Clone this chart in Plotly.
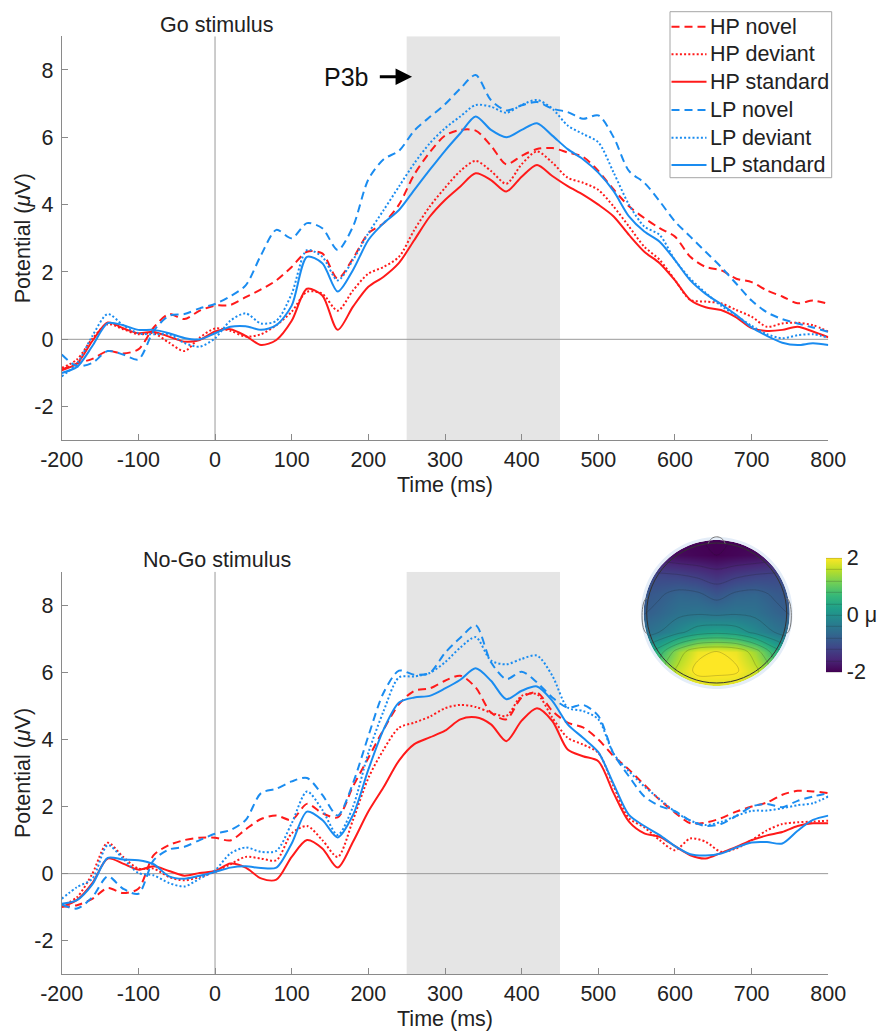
import numpy as np
import plotly.graph_objects as go

# ---------------- data ----------------
time_ms = list(range(-200, 801, 20))

go_hp_novel = [-0.90, -0.72, -0.58, -0.35, -0.42, -0.30, 0.35, 0.75, 0.60, 0.85,
               1.00, 1.02, 1.25, 1.48, 1.75, 2.15, 2.60, 2.55, 1.80, 2.40,
               3.15, 3.45, 4.00, 4.90, 5.55, 6.05, 6.22, 6.20, 5.75, 5.20,
               5.45, 5.65, 5.68, 5.55, 5.42, 5.00, 4.45, 3.95, 3.60, 3.30,
               3.05, 2.45, 2.15, 2.05, 1.80, 1.70, 1.45, 1.27, 1.07, 1.15, 1.05]
go_hp_deviant = [-0.85, -0.60, 0.02, 0.45, 0.30, 0.15, 0.18, -0.10, -0.35, 0.05,
                 0.32, 0.25, 0.08, 0.15, 0.42, 0.82, 1.41, 1.35, 0.85, 1.45,
                 1.95, 2.15, 2.45, 3.25, 3.94, 4.50, 5.00, 5.30, 5.00, 4.62,
                 5.20, 5.58, 5.25, 4.80, 4.65, 4.44, 3.94, 3.35, 2.75, 2.36,
                 1.76, 1.17, 1.12, 1.07, 0.87, 0.67, 0.37, 0.47, 0.49, 0.42, 0.23]
go_hp_standard = [-0.92, -0.72, -0.05, 0.50, 0.33, 0.18, 0.22, 0.08, -0.07, -0.02,
                  0.23, 0.30, 0.10, -0.17, -0.02, 0.55, 1.50, 1.30, 0.28, 0.97,
                  1.56, 1.86, 2.27, 2.95, 3.64, 4.14, 4.54, 4.93, 4.73, 4.39,
                  4.83, 5.18, 4.85, 4.55, 4.30, 4.00, 3.65, 3.10, 2.60, 2.26,
                  1.75, 1.17, 0.95, 0.87, 0.65, 0.33, 0.25, 0.28, 0.37, 0.23, 0.06]
go_lp_novel = [-0.45, -0.80, -0.70, -0.35, -0.45, -0.60, 0.25, 0.70, 0.75, 0.92,
               1.05, 1.28, 1.60, 2.50, 3.25, 3.00, 3.45, 3.30, 2.65, 3.35,
               4.75, 5.35, 5.60, 6.20, 6.60, 6.98, 7.45, 7.85, 7.10, 6.80,
               6.95, 7.05, 6.85, 6.75, 6.55, 6.65, 6.00, 5.00, 4.65, 4.10,
               3.50, 3.05, 2.60, 2.15, 1.65, 1.15, 0.80, 0.60, 0.47, 0.35, 0.22]
go_lp_deviant = [-1.10, -0.72, 0.10, 0.75, 0.42, 0.18, 0.15, 0.15, -0.11, -0.22,
                 0.03, 0.55, 0.77, 0.47, 0.55, 1.35, 2.65, 2.45, 1.75, 2.36,
                 3.15, 3.84, 4.54, 5.23, 5.82, 6.27, 6.62, 6.96, 6.91, 6.73,
                 6.96, 7.11, 6.85, 6.35, 6.10, 5.85, 4.95, 4.00, 3.35, 3.10,
                 2.35, 1.80, 1.38, 1.00, 0.70, 0.40, 0.15, 0.03, 0.12, 0.15, 0.05]
go_lp_standard = [-1.00, -0.82, -0.20, 0.48, 0.42, 0.28, 0.28, 0.18, 0.04, 0.00,
                  0.18, 0.37, 0.39, 0.28, 0.42, 1.00, 2.45, 2.26, 1.42, 2.06,
                  2.95, 3.45, 3.84, 4.44, 5.03, 5.60, 6.12, 6.62, 6.22, 6.00,
                  6.22, 6.42, 6.05, 5.65, 5.35, 4.95, 4.40, 3.65, 3.20, 2.90,
                  2.35, 1.75, 1.35, 1.05, 0.72, 0.35, 0.10, -0.10, -0.17, -0.12, -0.17]

nogo_hp_novel = [-0.99, -0.94, -0.75, -0.43, -0.58, -0.45, 0.55, 0.85, 1.00, 1.07,
                 1.07, 0.99, 1.32, 1.63, 1.73, 1.60, 2.08, 1.80, 1.68, 2.60,
                 3.45, 4.30, 5.05, 5.45, 5.52, 5.75, 5.90, 5.55, 4.80, 4.60,
                 5.25, 5.40, 4.85, 4.50, 4.36, 4.00, 3.50, 3.10, 2.65, 2.20,
                 1.82, 1.50, 1.52, 1.65, 1.85, 2.00, 2.12, 2.35, 2.47, 2.45, 2.40]
nogo_hp_deviant = [-0.95, -0.70, 0.00, 0.92, 0.50, 0.15, 0.15, -0.10, -0.20, -0.10,
                   0.05, 0.28, 0.50, 0.45, 0.40, 1.20, 1.42, 1.00, 0.50, 1.60,
                   2.85, 3.70, 4.35, 4.50, 4.68, 4.93, 5.03, 4.97, 4.80, 4.70,
                   5.30, 5.35, 4.65, 4.05, 3.85, 3.60, 2.60, 1.65, 1.38, 1.00,
                   0.70, 1.05, 0.95, 0.65, 0.75, 1.00, 1.29, 1.48, 1.53, 1.55, 1.58]
nogo_hp_standard = [-0.99, -0.78, -0.28, 0.45, 0.30, 0.12, 0.22, 0.08, -0.06, 0.02,
                    0.08, 0.30, 0.18, -0.14, -0.18, 0.50, 1.00, 0.75, 0.18, 0.95,
                    1.85, 2.58, 3.37, 3.86, 4.06, 4.26, 4.60, 4.66, 4.45, 3.95,
                    4.56, 4.93, 4.55, 3.70, 3.50, 3.35, 2.40, 1.55, 1.20, 1.10,
                    0.82, 0.55, 0.45, 0.62, 0.80, 1.00, 1.14, 1.24, 1.42, 1.50, 1.50]
nogo_lp_novel = [-0.92, -1.04, -0.70, -0.08, -0.45, -0.60, 0.40, 0.72, 0.80, 1.00,
                 1.19, 1.30, 1.60, 2.40, 2.53, 2.75, 2.85, 2.35, 1.73, 2.70,
                 4.10, 5.40, 6.05, 5.93, 5.98, 6.58, 7.03, 7.40, 6.30, 5.80,
                 6.02, 5.70, 5.25, 4.95, 5.03, 4.70, 3.57, 2.90, 2.30, 2.02,
                 1.86, 1.58, 1.42, 1.48, 1.72, 2.00, 2.08, 1.98, 2.17, 2.30, 2.40]
nogo_lp_deviant = [-0.75, -0.40, -0.15, 0.85, 0.45, 0.02, -0.05, -0.28, -0.38, -0.15,
                   0.10, 0.60, 0.78, 0.65, 0.68, 1.50, 2.45, 1.90, 1.15, 2.00,
                   3.60, 4.85, 5.85, 5.88, 5.98, 6.30, 6.74, 7.05, 6.35, 6.24,
                   6.40, 6.50, 5.90, 4.95, 4.85, 4.60, 3.57, 3.05, 2.60, 2.22,
                   1.85, 1.58, 1.45, 1.54, 1.72, 1.87, 1.88, 1.95, 2.04, 2.10, 2.30]
nogo_lp_standard = [-0.90, -0.79, -0.32, 0.47, 0.42, 0.40, 0.28, -0.08, -0.15, -0.06,
                    0.05, 0.18, 0.22, 0.17, 0.18, 0.90, 1.85, 1.60, 1.08, 1.75,
                    3.10, 4.30, 5.10, 5.25, 5.30, 5.52, 5.78, 6.12, 5.75, 5.20,
                    5.45, 5.58, 5.15, 4.45, 4.05, 3.62, 2.67, 1.75, 1.42, 1.15,
                    0.82, 0.58, 0.54, 0.60, 0.78, 0.93, 0.94, 0.90, 1.28, 1.60, 1.73]

series_names = ["HP novel", "HP deviant", "HP standard", "LP novel", "LP deviant", "LP standard"]
go_series = [go_hp_novel, go_hp_deviant, go_hp_standard, go_lp_novel, go_lp_deviant, go_lp_standard]
nogo_series = [nogo_hp_novel, nogo_hp_deviant, nogo_hp_standard, nogo_lp_novel, nogo_lp_deviant, nogo_lp_standard]

x_ticks = [-200, -100, 0, 100, 200, 300, 400, 500, 600, 700, 800]
x_tick_labels = ["-200", "-100", "0", "100", "200", "300", "400", "500", "600", "700", "800"]
y_ticks = [-2, 0, 2, 4, 6, 8]
y_tick_labels = ["-2", "0", "2", "4", "6", "8"]
p3b_window = [250, 450]

# topographic map values (rows bottom->top, columns left->right)
topo_x = [-1.1, -0.825, -0.55, -0.275, 0.0, 0.275, 0.55, 0.825, 1.1]
topo_y = [-1.1, -0.825, -0.55, -0.275, 0.0, 0.275, 0.55, 0.825, 1.1]
topo_z = [
    [0.9, 1.2, 1.5, 1.7, 1.7, 1.7, 1.5, 1.2, 0.9],
    [0.6, 1.1, 1.7, 2.1, 2.1, 2.05, 1.7, 1.1, 0.6],
    [0.1, 0.6, 1.4, 1.9, 2.0, 1.9, 1.4, 0.6, 0.1],
    [-0.6, -0.4, -0.1, 0.2, 0.3, 0.2, -0.1, -0.4, -0.6],
    [-0.85, -0.7, -0.5, -0.45, -0.5, -0.45, -0.5, -0.7, -0.85],
    [-0.95, -0.85, -0.7, -0.75, -0.95, -0.75, -0.7, -0.85, -0.95],
    [-1.1, -1.15, -1.2, -1.3, -1.45, -1.3, -1.2, -1.15, -1.1],
    [-1.75, -1.8, -1.9, -1.95, -2.0, -1.95, -1.9, -1.8, -1.75],
    [-2.0, -2.0, -2.0, -2.0, -2.0, -2.0, -2.0, -2.0, -2.0],
]

# ---------------- style ----------------
W, H = 883, 1036
RED = "#ff1a1a"
BLUE = "#1a8cf0"
colors = [RED, RED, RED, BLUE, BLUE, BLUE]
dashes = ["8px,5px", "2px,2.2px", "solid", "8px,5px", "2px,2.2px", "solid"]
FONT = "Liberation Sans, Arial, sans-serif"
FS = 21.5
TXT = "#222222"
AXC = "#8a8a8a"

def px_x(p):
    return p / W

def px_y(p):
    return 1 - p / H

fig = go.Figure()

for i, (name, vals) in enumerate(zip(series_names, go_series)):
    fig.add_trace(go.Scatter(x=time_ms, y=vals, mode="lines", name=name,
                             showlegend=False,
                             line=dict(color=colors[i], width=2, dash=dashes[i],
                                       shape="spline", smoothing=0.8),
                             xaxis="x", yaxis="y", hoverinfo="skip"))
for i, (name, vals) in enumerate(zip(series_names, nogo_series)):
    fig.add_trace(go.Scatter(x=time_ms, y=vals, mode="lines", name=name,
                             showlegend=False,
                             line=dict(color=colors[i], width=2, dash=dashes[i],
                                       shape="spline", smoothing=0.8),
                             xaxis="x2", yaxis="y2", hoverinfo="skip"))

# topomap
fig.add_trace(go.Contour(
    x=topo_x, y=topo_y, z=topo_z, xaxis="x3", yaxis="y3",
    colorscale="Viridis", zmin=-2, zmax=2, autocontour=False,
    contours=dict(start=-2, end=2, size=0.4, coloring="heatmap"),
    line=dict(color="rgba(30,30,30,0.3)", width=0.7, smoothing=1.0),
    showlegend=False, hoverinfo="skip",
    colorbar=dict(x=px_x(825.7), xanchor="left", y=px_y(614.85), yanchor="middle",
                  len=113.7, lenmode="pixels", thickness=16, thicknessmode="pixels",
                  tickvals=[-2, 0, 2], ticktext=["-2", "0 μ", "2"], ticks="",
                  outlinewidth=0, xpad=0, ypad=0,
                  tickfont=dict(size=FS, family=FONT, color=TXT))))

xdom = [px_x(61.7), px_x(828.3)]
top_dom = [px_y(440.3), px_y(36.3)]
bot_dom = [px_y(974.3), px_y(571.7)]

axis_common = dict(showline=True, linecolor=AXC, linewidth=1, ticks="inside", ticklen=6,
                   tickcolor=AXC, showgrid=False, zeroline=False, mirror=False,
                   automargin=False,
                   tickfont=dict(size=FS, family=FONT, color=TXT))

def xax(anchor):
    return dict(axis_common, domain=xdom, range=[-200, 800], tickmode="array",
                tickvals=x_ticks, ticktext=x_tick_labels, anchor=anchor,
                title=dict(text="Time (ms)", font=dict(size=FS, family=FONT, color=TXT),
                           standoff=5))

def yax(dom, anchor):
    return dict(axis_common, domain=dom, range=[-3, 9], tickmode="array",
                tickvals=y_ticks, ticktext=y_tick_labels, anchor=anchor,
                ticklabelstandoff=3)

shapes = []
for xr, yr in [("x", "y"), ("x2", "y2")]:
    shapes.append(dict(type="rect", xref=xr, yref=yr, x0=p3b_window[0], x1=p3b_window[1],
                       y0=-3, y1=9, fillcolor="#e5e5e5", line=dict(width=0), layer="below"))
    shapes.append(dict(type="line", xref=xr, yref=yr, x0=0, x1=0, y0=-3, y1=9,
                       line=dict(color="#999999", width=1), layer="below"))
    shapes.append(dict(type="line", xref=xr, yref=yr, x0=-200, x1=800, y0=0, y1=0,
                       line=dict(color="#999999", width=1), layer="below"))

# topomap masks / outlines (geometry only)
S = 8 / 7

def circle_path(r, ccw=True, n=160):
    ang = np.linspace(0, 2 * np.pi, n, endpoint=False)
    if not ccw:
        ang = -ang
    pts = [f"{r*np.cos(a):.4f},{r*np.sin(a):.4f}" for a in ang]
    return "M " + " L ".join(pts) + " Z"

sq = f"M {-S},{-S} L {-S},{S} L {S},{S} L {S},{-S} Z"
shapes.append(dict(type="path", xref="x3", yref="y3", path=sq + " " + circle_path(1.043, True),
                   fillcolor="white", line=dict(width=0), layer="above"))
shapes.append(dict(type="path", xref="x3", yref="y3",
                   path=circle_path(1.085, False) + " " + circle_path(1.043, True),
                   fillcolor="#e4edf8", line=dict(width=0), layer="above"))
shapes.append(dict(type="circle", xref="x3", yref="y3", x0=-1, x1=1, y0=-1, y1=1,
                   line=dict(color="#333333", width=1), layer="above"))
shapes.append(dict(type="path", xref="x3", yref="y3",
                   path="M -0.12,0.993 C -0.08,1.12 0.08,1.12 0.12,0.993",
                   line=dict(color="#777777", width=1), layer="above"))
shapes.append(dict(type="path", xref="x3", yref="y3",
                   path="M -0.995,0.21 C -1.09,0.2 -1.09,-0.28 -0.995,-0.29",
                   line=dict(color="#777777", width=1), layer="above"))
shapes.append(dict(type="path", xref="x3", yref="y3",
                   path="M 0.995,0.21 C 1.09,0.2 1.09,-0.28 0.995,-0.29",
                   line=dict(color="#777777", width=1), layer="above"))

# legend box (drawn in page pixels)
LEG_L, LEG_R, LEG_T, LEG_B = 670, 831.7, 11.7, 177.7
leg_rows = [26.7, 54.3, 81.7, 110.0, 137.7, 165.0]
shapes.append(dict(type="rect", xref="paper", yref="paper",
                   x0=px_x(LEG_L), x1=px_x(LEG_R), y0=px_y(LEG_B), y1=px_y(LEG_T),
                   fillcolor="white", line=dict(color="#a6a6a6", width=1), layer="above"))
annotations = []
for i, name in enumerate(series_names):
    yy = px_y(leg_rows[i])
    shapes.append(dict(type="line", xref="paper", yref="paper",
                       x0=px_x(671.5), x1=px_x(706.5), y0=yy, y1=yy,
                       line=dict(color=colors[i], width=2, dash=dashes[i]), layer="above"))
    annotations.append(dict(text=name, xref="paper", yref="paper", x=px_x(708), y=yy,
                            xanchor="left", yanchor="middle", showarrow=False,
                            font=dict(size=FS, family=FONT, color=TXT)))

for cy in [238.3, 773.0]:
    annotations.append(dict(text="Potential (<i>μ</i>V)", xref="paper", yref="paper",
                            x=px_x(23), y=px_y(cy), xanchor="center", yanchor="middle",
                            textangle=-90, showarrow=False,
                            font=dict(size=FS, family=FONT, color=TXT)))

annotations += [
    dict(text="Go stimulus", xref="paper", yref="paper", x=px_x(217), y=px_y(24.5),
         xanchor="center", yanchor="middle", showarrow=False,
         font=dict(size=FS, family=FONT, color=TXT)),
    dict(text="No-Go stimulus", xref="paper", yref="paper", x=px_x(217), y=px_y(560),
         xanchor="center", yanchor="middle", showarrow=False,
         font=dict(size=FS, family=FONT, color=TXT)),
    dict(text="P3b", xref="x", yref="y", x=171, y=7.85, xanchor="center", yanchor="middle",
         showarrow=False, yshift=-2, font=dict(size=25, family=FONT, color="#111111")),
    dict(text="", xref="x", yref="y", x=257, y=7.8, ax=213, ay=7.8, axref="x", ayref="y",
         showarrow=True, arrowhead=2, arrowsize=1.1, arrowwidth=3, arrowcolor="black",
         standoff=0, startstandoff=0),
]

fig.update_layout(
    width=W, height=H, margin=dict(l=0, r=0, t=0, b=0, autoexpand=False),
    paper_bgcolor="white", plot_bgcolor="rgba(0,0,0,0)",
    font=dict(family=FONT, size=FS, color=TXT),
    xaxis=xax("y"), yaxis=yax(top_dom, "x"),
    xaxis2=xax("y2"), yaxis2=yax(bot_dom, "x2"),
    xaxis3=dict(domain=[px_x(636.7), px_x(796.7)], range=[-S, S], visible=False,
                anchor="y3", fixedrange=True),
    yaxis3=dict(domain=[px_y(693), px_y(533)], range=[-S, S], visible=False,
                anchor="x3", fixedrange=True),
    shapes=shapes, annotations=annotations,
    showlegend=False,
)

fig.write_html("out.html",
               config={"displayModeBar": False},
               post_script="document.body.style.margin='0px';document.body.style.padding='0px';")
